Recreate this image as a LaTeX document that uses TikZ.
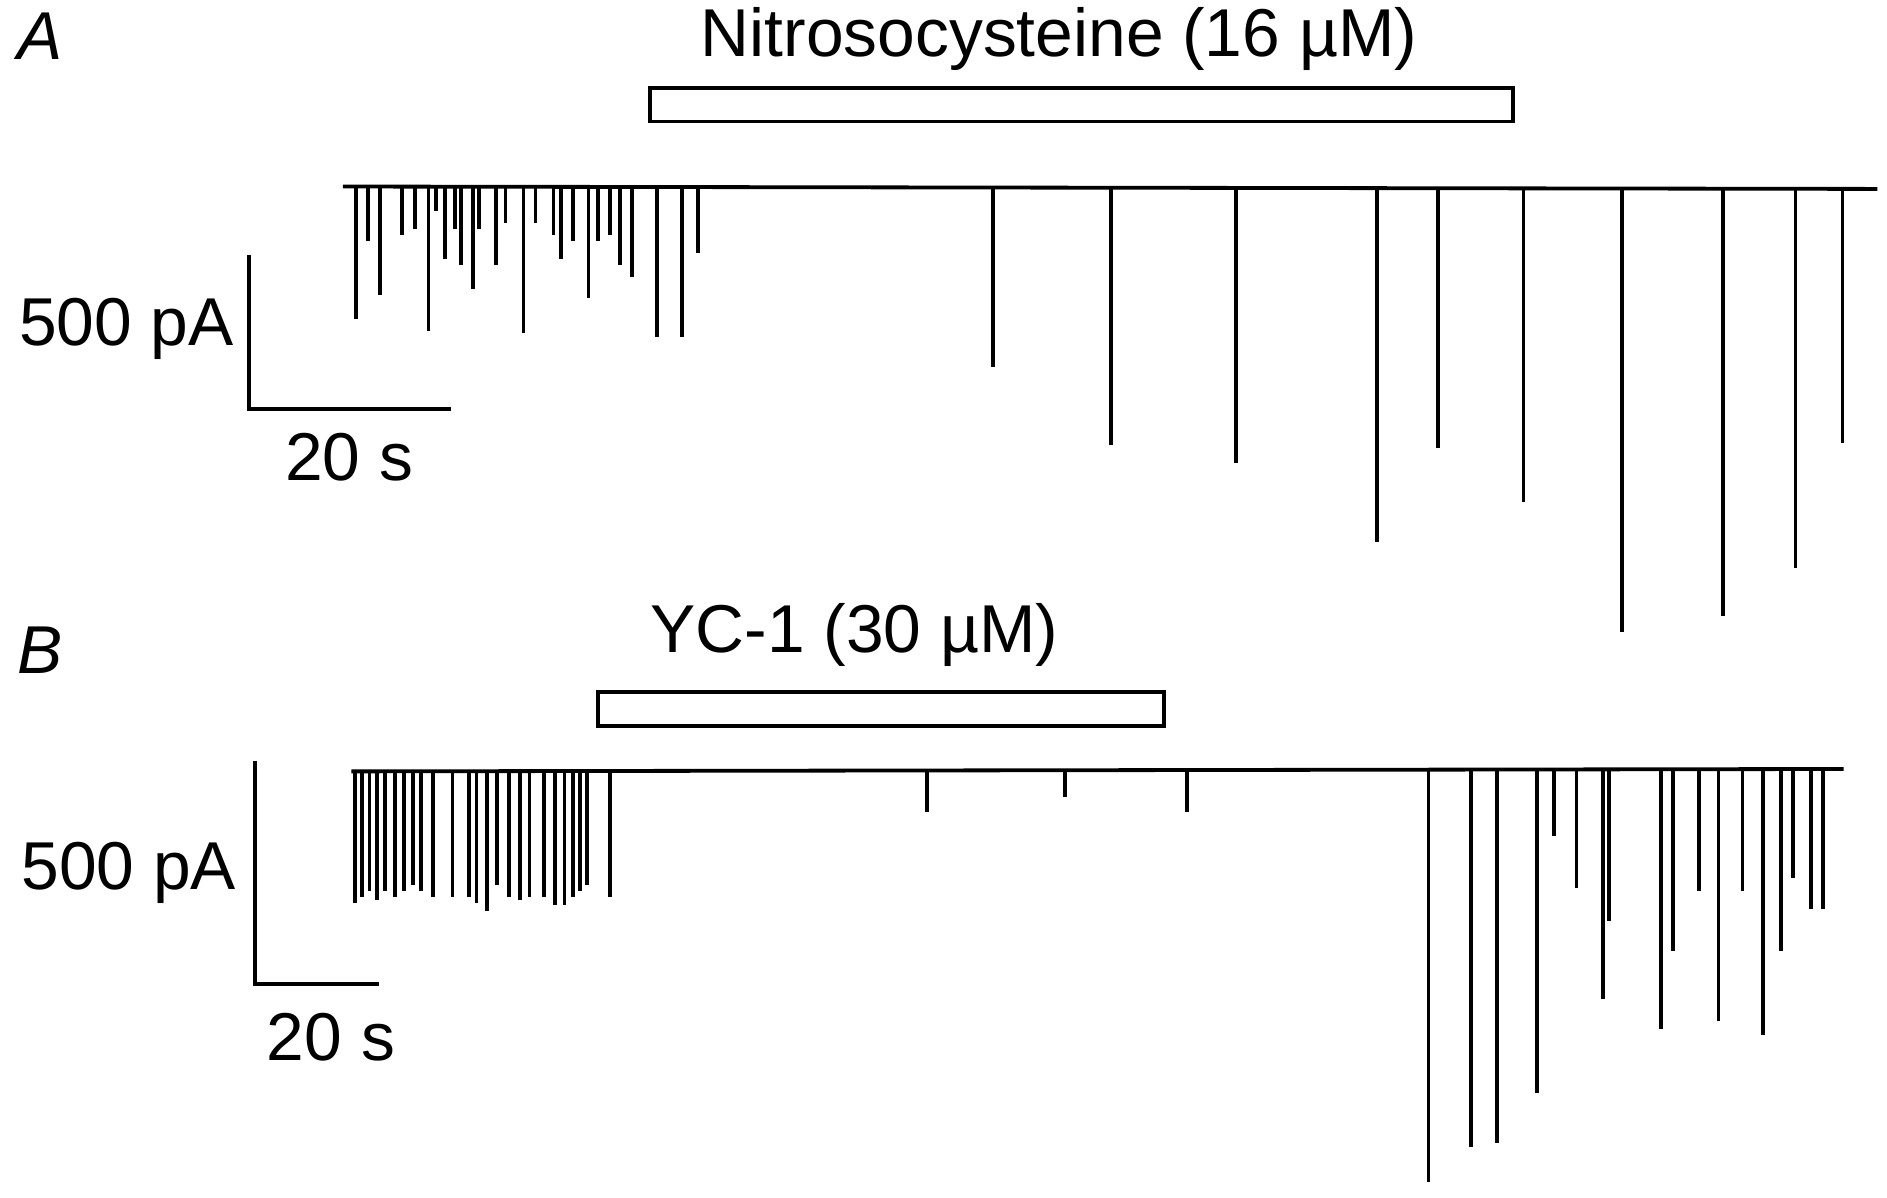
\documentclass[tikz,border=0pt]{standalone}
\usepackage{fontspec}
\setmainfont{Liberation Sans}
\usepackage{tikz}
\tikzset{trace/.style={line width=0.9pt},
  lbl/.style={font=\fontsize{16}{19}\selectfont},
  drugbar/.style={draw, line width=0.9pt}}
\begin{document}
\begin{tikzpicture}[x=0.01cm, y=-0.01cm]
                \useasboundingbox (0,0) rectangle (1568,995);
                % panel labels
                \node[lbl, font=\fontsize{16}{19}\selectfont\itshape] (labA) at (33,30) {A};
                \node[lbl, font=\fontsize{16}{19}\selectfont\itshape] (labB) at (33,540) {B};
                % drug bars
                \draw[drugbar] (540,73) rectangle (1257,101);
                \node[lbl] (drugA) at (880,32) {Nitrosocysteine (16 µM)};
                \draw[drugbar] (497,575) rectangle (967,603);
                \node[lbl] (drugB) at (710,528) {YC-1 (30 µM)};
                % scale bars
                \draw[trace] (207,212) -- (207,340) -- (375,340);
                \node[lbl] (ampA) at (105,273) {500 pA};
                \node[lbl] (timeA) at (290,380) {20 s};
                \draw[trace] (212,632) -- (212,818) -- (315,818);
                \node[lbl] (ampB) at (107,725) {500 pA};
                \node[lbl] (timeB) at (275,862) {20 s};
                % trace A
                \draw[trace] (285,155) -- (1560,157);
                \foreach \x/\d in {296/265,306/200,316/245,334/195,345/190,356/275,362/175,370/215,
                    378/190,383/220,393/240,398/190,412/220,420/185,435/277,445/185,460/195,466/215,
                    476/200,489/248,497/200,507/195,515/220,525/230,546/280,567/280,580/210,
                    825/305,923/370,1027/385,1144/450,1195/372,1266/417,1348/525,1432/512,
                    1492/472,1531/368}
                    \draw[trace] (\x,156) -- (\x,\d);
                % trace B
                \draw[trace] (292,641) -- (1532,639);
                \foreach \x/\d in {295/750,301/745,307/740,313/748,320/740,328/745,336/740,343/735,
                    350/740,360/745,376/745,390/745,396/750,405/757,413/735,423/745,432/748,440/745,
                    452/745,461/752,469/752,476/745,482/740,488/735,507/745,770/675,885/662,986/675,
                    1187/982,1222/953,1244/950,1277/908,1291/695,1310/738,1332/830,1337/765,
                    1380/855,1390/790,1412/740,1428/848,1448/740,1465/860,1480/790,1490/730,
                    1505/755,1515/755}
                    \draw[trace] (\x,640) -- (\x,\d);
\end{tikzpicture}
\end{document}
